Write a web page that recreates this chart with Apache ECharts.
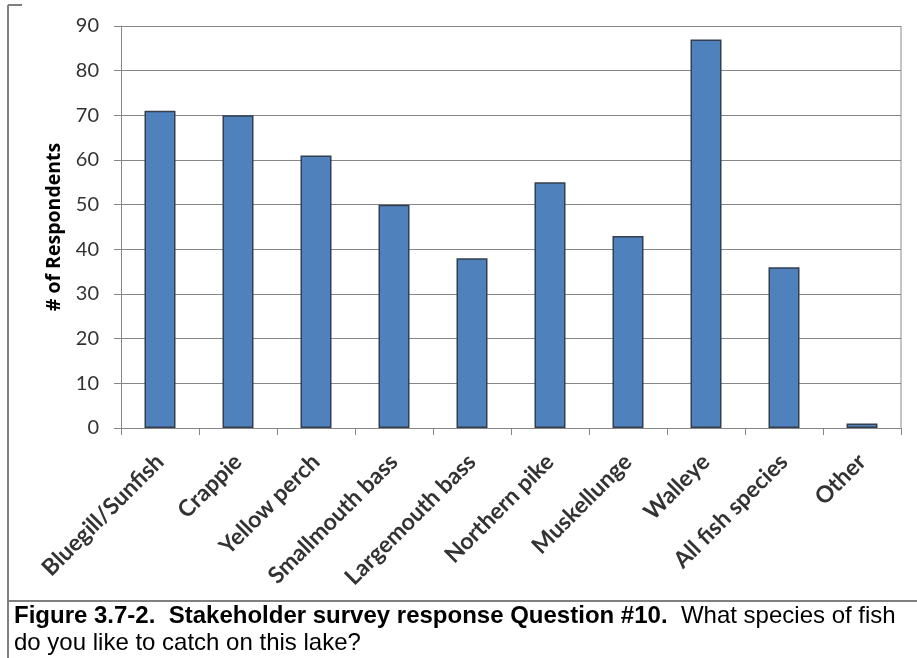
<!DOCTYPE html>
<html><head><meta charset="utf-8">
<script src="https://cdn.jsdelivr.net/npm/echarts@6/dist/echarts.min.js"></script>
<style>html,body{margin:0;padding:0;background:#fff}#c{width:917px;height:658px}</style>
</head><body><div id="c"></div>
<script>
const categories = ["Bluegill/Sunfish","Crappie","Yellow perch","Smallmouth bass","Largemouth bass","Northern pike","Muskellunge","Walleye","All fish species","Other"];
const respondents = [71,70,61,50,38,55,43,87,36,1];
const yTicks = [0,10,20,30,40,50,60,70,80,90];
const yTitle = "# of Respondents";
const captionBold = "Figure 3.7-2.  Stakeholder survey response Question #10.";
const captionRest = "  What species of fish";
const captionLine2 = "do you like to catch on this lake?";

const chart = echarts.init(document.getElementById('c'), null, {renderer:'canvas'});
chart.setOption({
  animation:false,
  grid:{left:121,right:16,top:26,bottom:230,containLabel:false},
  xAxis:{type:'category',data:categories,
    axisLine:{lineStyle:{color:'#868686',width:1}},
    axisTick:{show:true,length:7,alignWithLabel:false,lineStyle:{color:'#868686'}},
    axisLabel:{rotate:45,interval:0,margin:30,fontFamily:'Lato, "Open Sans", sans-serif',fontWeight:'bold',fontSize:23,color:'#333'}},
  yAxis:{type:'value',min:yTicks[0],max:yTicks[yTicks.length-1],interval:10,
    name:yTitle,nameLocation:'middle',nameGap:54,
    nameTextStyle:{fontFamily:'"Open Sans", Lato, sans-serif',fontWeight:'bold',fontSize:19.5,color:'#000'},
    axisLine:{show:true,lineStyle:{color:'#868686'}},
    axisTick:{show:true,length:7,lineStyle:{color:'#868686'}},
    splitLine:{lineStyle:{color:'#868686',width:1}},
    axisLabel:{fontFamily:'Lato, "Open Sans", sans-serif',fontSize:20,color:'#333',margin:22}},
  series:[{type:'bar',data:respondents,barWidth:31,
    itemStyle:{color:'#4F81BD',borderColor:'#333f4f',borderWidth:1.5}}],
  graphic:[
    {type:'line',shape:{x1:8,y1:5,x2:8,y2:658},style:{stroke:'#808080',lineWidth:2}},
    {type:'line',shape:{x1:8,y1:5,x2:22,y2:5},style:{stroke:'#808080',lineWidth:2}},
    {type:'line',shape:{x1:8,y1:601,x2:917,y2:601},style:{stroke:'#808080',lineWidth:2}},
    {type:'line',shape:{x1:901,y1:26,x2:901,y2:428},style:{stroke:'#b0b0b0',lineWidth:1.5}},
    {type:'text',left:14,top:604,style:{rich:{b:{fontFamily:'"Liberation Sans", Arial, sans-serif',fontWeight:'bold',fontSize:24,fill:'#000'},n:{fontFamily:'"Liberation Sans", Arial, sans-serif',fontSize:24,fill:'#000'}},text:'{b|'+captionBold+'}{n|'+captionRest+'}'}},
    {type:'text',left:14,top:631,style:{text:captionLine2,fontFamily:'"Liberation Sans", Arial, sans-serif',fontSize:24,fill:'#000'}}
  ]
});
</script></body></html>
